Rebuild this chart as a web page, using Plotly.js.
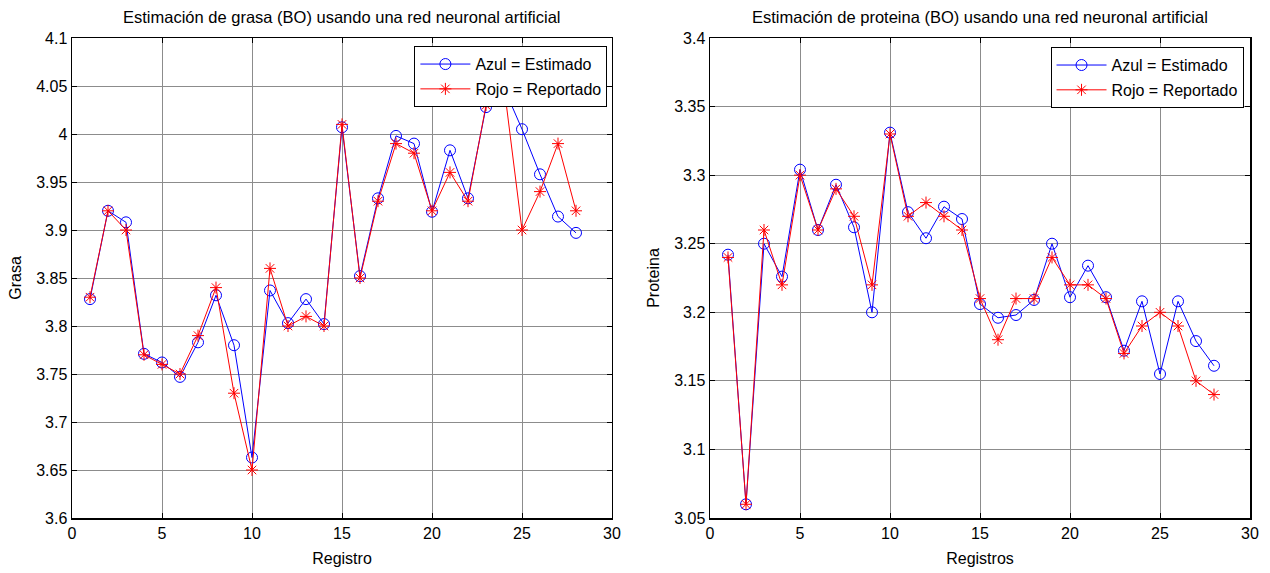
<!DOCTYPE html>
<html>
<head>
<meta charset="utf-8">
<script src="https://cdn.plot.ly/plotly-3.0.1.min.js"></script>
<style>html,body{margin:0;padding:0;background:#fff;}#chart{width:1270px;height:573px;}</style>
</head>
<body>
<div id="chart"></div>
<script>
const registros = [1,2,3,4,5,6,7,8,9,10,11,12,13,14,15,16,17,18,19,20,21,22,23,24,25,26,27,28];
const grasaEstimado = [3.828,3.920,3.908,3.771,3.762,3.747,3.783,3.832,3.780,3.663,3.837,3.803,3.828,3.802,4.007,3.852,3.933,3.998,3.990,3.919,3.983,3.933,4.028,4.048,4.005,3.958,3.914,3.897];
const grasaReportado = [3.83,3.92,3.90,3.77,3.76,3.75,3.79,3.84,3.73,3.65,3.86,3.80,3.81,3.80,4.01,3.85,3.93,3.99,3.98,3.92,3.96,3.93,4.03,4.05,3.90,3.94,3.99,3.92];
const proteinaEstimado = [3.242,3.060,3.250,3.226,3.304,3.260,3.293,3.262,3.200,3.331,3.273,3.254,3.277,3.268,3.206,3.196,3.198,3.209,3.250,3.211,3.234,3.211,3.172,3.208,3.155,3.208,3.179,3.161];
const proteinaReportado = [3.24,3.06,3.26,3.22,3.30,3.26,3.29,3.27,3.22,3.33,3.27,3.28,3.27,3.26,3.21,3.18,3.21,3.21,3.24,3.22,3.22,3.21,3.17,3.19,3.20,3.19,3.15,3.14];
const nombreEstimado = 'Azul = Estimado';
const nombreReportado = 'Rojo = Reportado';
const tituloGrasa = 'Estimación de grasa (BO) usando una red neuronal artificial';
const tituloProteina = 'Estimación de proteina (BO) usando una red neuronal artificial';

const FONT = 'Liberation Sans, Arial, sans-serif';
const blue = '#0000ff', red = '#ff0000';

function est(x, y, xa, ya, lg) {
  return {x: x, y: y, xaxis: xa, yaxis: ya, legend: lg, legendgroup: lg + 'e', name: nombreEstimado, type: 'scatter', mode: 'lines+markers',
    line: {color: blue, width: 1}, marker: {symbol: 'circle-open', size: 11, color: blue, line: {color: blue, width: 1}}};
}
function rep(x, y, xa, ya, lg) {
  return {x: x, y: y, xaxis: xa, yaxis: ya, legend: lg, legendgroup: lg + 'r', name: nombreReportado, type: 'scatter', mode: 'lines+markers',
    line: {color: red, width: 1}, marker: {symbol: 'asterisk-open', size: 10, color: red, line: {color: red, width: 1}}};
}
const data = [
  est(registros, grasaEstimado, 'x', 'y', 'legend'),
  rep(registros, grasaReportado, 'x', 'y', 'legend'),
  est(registros, proteinaEstimado, 'x2', 'y2', 'legend2'),
  rep(registros, proteinaReportado, 'x2', 'y2', 'legend2')
];

function xax(dom, anchor, title) {
  return {domain: dom, anchor: anchor, range: [0, 30], dtick: 5, tick0: 0,
    showline: true, linecolor: '#000', linewidth: 1.5, mirror: 'ticks', ticks: 'inside', ticklen: 5, tickcolor: '#000',
    showgrid: true, gridcolor: '#8c8c8c', gridwidth: 1, zeroline: false,
    tickfont: {family: FONT, size: 16, color: '#000'},
    title: {text: title, font: {family: FONT, size: 16, color: '#000'}, standoff: 12}};
}
function yax(anchor, rng, title) {
  return {domain: [0, 1], anchor: anchor, range: rng, dtick: 0.05, tick0: 3,
    showline: true, linecolor: '#000', linewidth: 1.5, mirror: 'ticks', ticks: 'inside', ticklen: 5, tickcolor: '#000',
    showgrid: true, gridcolor: '#8c8c8c', gridwidth: 1, zeroline: false,
    tickfont: {family: FONT, size: 16, color: '#000'},
    title: {text: title, font: {family: FONT, size: 16, color: '#000'}, standoff: 10}};
}
const legStyle = {bgcolor: '#fff', bordercolor: '#000', borderwidth: 1, font: {family: FONT, size: 16, color: '#000'},
  xref: 'paper', yref: 'paper', xanchor: 'right', yanchor: 'top', tracegroupgap: 1, itemwidth: 50};

const layout = {
  width: 1270, height: 573,
  margin: {l: 72, r: 20, t: 38, b: 55},
  paper_bgcolor: '#fff', plot_bgcolor: '#fff',
  font: {family: FONT, color: '#000'},
  showlegend: true,
  xaxis: xax([0, 0.4584], 'y', 'Registro'),
  yaxis: yax('x', [3.6, 4.1], 'Grasa'),
  xaxis2: xax([0.5416, 1], 'y2', 'Registros'),
  yaxis2: yax('x2', [3.05, 3.4], 'Proteina'),
  legend: Object.assign({}, legStyle, {x: 0.4545, y: 0.983}),
  legend2: Object.assign({}, legStyle, {x: 0.9945, y: 0.981}),
  annotations: [
    {text: tituloGrasa, xref: 'paper', yref: 'paper', x: 0.2292, y: 1.044, xanchor: 'center', yanchor: 'middle', showarrow: false,
     font: {family: FONT, size: 16.5, color: '#000'}},
    {text: tituloProteina, xref: 'paper', yref: 'paper', x: 0.7708, y: 1.044, xanchor: 'center', yanchor: 'middle', showarrow: false,
     font: {family: FONT, size: 16.5, color: '#000'}}
  ]
};
Plotly.newPlot('chart', data, layout, {displayModeBar: false, staticPlot: true});
</script>
</body>
</html>
